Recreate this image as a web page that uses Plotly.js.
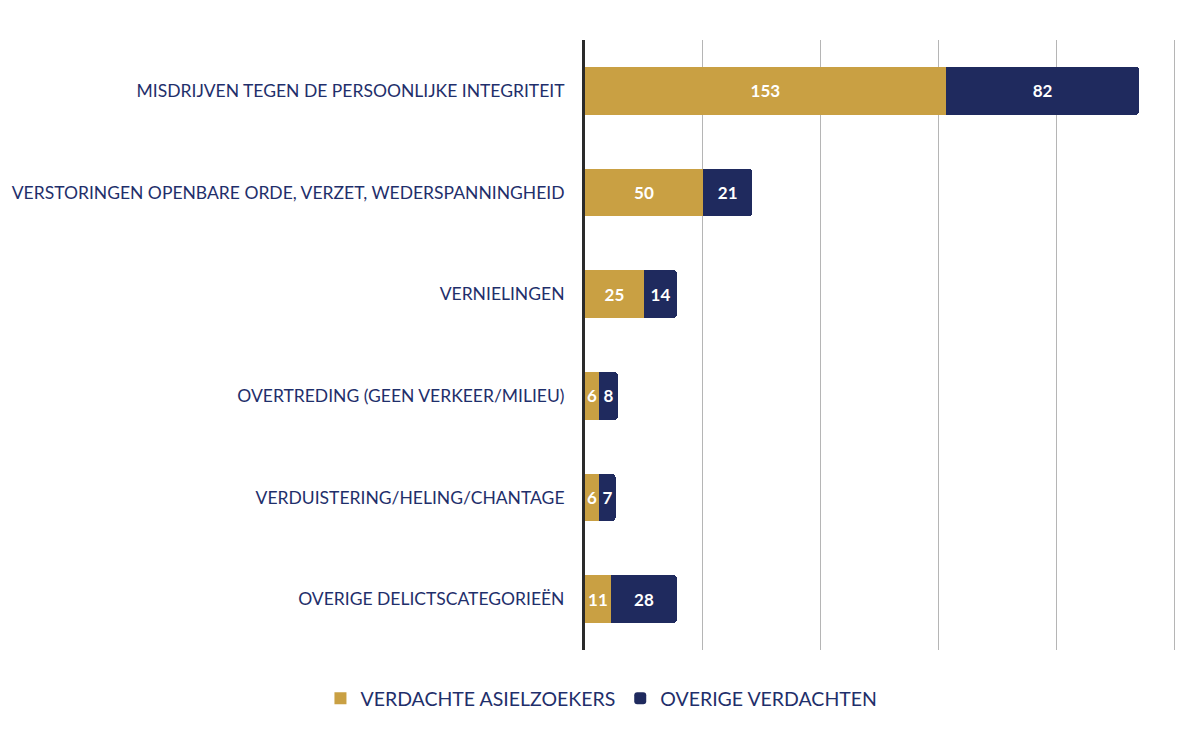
<!DOCTYPE html>
<html>
<head>
<meta charset="utf-8">
<script src="https://cdn.plot.ly/plotly-3.0.1.min.js"></script>
<style>html,body{margin:0;padding:0;background:#fff;}#chart{width:1191px;height:730px;}</style>
</head>
<body>
<div id="chart"></div>
<script>
const categories = [
  "MISDRIJVEN TEGEN DE PERSOONLIJKE INTEGRITEIT",
  "VERSTORINGEN OPENBARE ORDE, VERZET, WEDERSPANNINGHEID",
  "VERNIELINGEN",
  "OVERTREDING (GEEN VERKEER/MILIEU)",
  "VERDUISTERING/HELING/CHANTAGE",
  "OVERIGE DELICTSCATEGORIEËN"
];
const asielzoekers = [153, 50, 25, 6, 6, 11];
const overige = [82, 21, 14, 8, 7, 28];
const seriesNames = ["VERDACHTE ASIELZOEKERS", "OVERIGE VERDACHTEN"];

const gold = "#C9A043";
const navy = "#1F2A5E";
const labelFont = {family: "Lato, 'Open Sans', sans-serif", size: 17, color: "#ffffff", weight: "bold"};

const traces = [
  {
    type: "bar", orientation: "h", name: seriesNames[0],
    y: categories, x: asielzoekers,
    text: asielzoekers.map(String), textposition: "inside", insidetextanchor: "middle",
    constraintext: "none", textfont: labelFont,
    marker: {color: gold}, hoverinfo: "x+name"
  },
  {
    type: "bar", orientation: "h", name: seriesNames[1],
    y: categories, x: overige,
    text: overige.map(String), textposition: "inside", insidetextanchor: "middle",
    constraintext: "none", textfont: labelFont,
    marker: {color: navy, cornerradius: 4}, hoverinfo: "x+name"
  }
];

const layout = {
  width: 1191, height: 730,
  margin: {l: 585, r: 14, t: 40, b: 80},
  paper_bgcolor: "#ffffff", plot_bgcolor: "#ffffff",
  barmode: "stack", bargap: 0.53,
  font: {family: "Lato, 'Open Sans', sans-serif", color: "#1F2F6B"},
  xaxis: {
    range: [0, 251], dtick: 50, showticklabels: false,
    showgrid: true, gridcolor: "#b5b5b5", gridwidth: 1,
    zeroline: false, showline: false, fixedrange: true
  },
  yaxis: {
    autorange: "reversed", showline: true, linecolor: "#2a2a2a", linewidth: 3,
    ticks: "", ticklabelstandoff: 14,
    tickfont: {family: "Lato, 'Open Sans', sans-serif", size: 17.5, color: "#1F2F6B"},
    showgrid: false, zeroline: false, fixedrange: true
  },
  showlegend: true,
  legend: {
    orientation: "h", xref: "container", yref: "container",
    x: 0.505, xanchor: "center", y: 0.043, yanchor: "middle",
    font: {family: "Lato, 'Open Sans', sans-serif", size: 19.5, color: "#1F2F6B"},
    itemwidth: 30, traceorder: "normal"
  }
};

Plotly.newPlot("chart", traces, layout, {displayModeBar: false, staticPlot: true});
</script>
</body>
</html>
